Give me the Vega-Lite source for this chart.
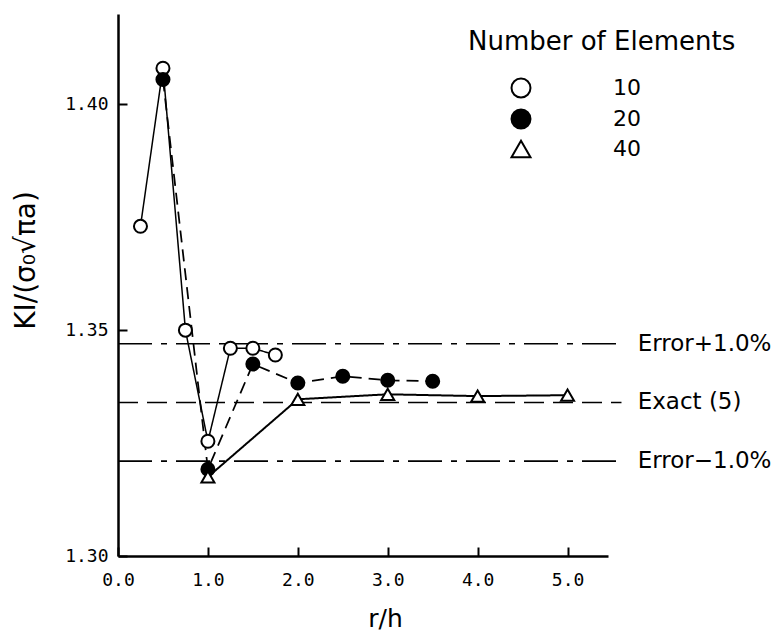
{
  "$schema": "https://vega.github.io/schema/vega-lite/v6.json",
  "width": 490,
  "height": 542,
  "autosize": "none",
  "padding": {"left": 118, "top": 14, "right": 171, "bottom": 75},
  "background": "white",
  "config": {
    "view": {"stroke": null},
    "axis": {
      "grid": false,
      "domainColor": "black",
      "domainWidth": 2.5,
      "tickColor": "black",
      "tickWidth": 2,
      "tickSize": -9,
      "labelFont": "DejaVu Sans Mono",
      "labelFontSize": 18,
      "labelColor": "black",
      "labelFlush": false,
      "titleFont": "DejaVu Sans",
      "titleFontWeight": "normal",
      "titleColor": "black"
    }
  },
  "resolve": {"scale": {"strokeDash": "independent", "strokeWidth": "independent"}},
  "layer": [
    {
      "data": {"values": [
        {"k": 1.347, "label": "Error+1.0%"},
        {"k": 1.334, "label": "Exact (5)"},
        {"k": 1.321, "label": "Error\u22121.0%"}
      ]},
      "mark": {"type": "rule", "color": "black", "strokeWidth": 1.6},
      "encoding": {
        "x": {"datum": 0},
        "x2": {"datum": 5.6},
        "y": {"field": "k", "type": "quantitative"},
        "strokeDash": {
          "field": "label", "type": "nominal",
          "scale": {"domain": ["Error+1.0%", "Exact (5)", "Error\u22121.0%"], "range": [[34, 9, 6, 9], [20, 9], [34, 9, 6, 9]]},
          "legend": null
        }
      }
    },
    {
      "data": {"values": [
        {"k": 1.347, "label": "Error+1.0%"},
        {"k": 1.334, "label": "Exact (5)"},
        {"k": 1.321, "label": "Error\u22121.0%"}
      ]},
      "mark": {"type": "text", "align": "left", "baseline": "middle", "font": "DejaVu Sans", "fontSize": 23, "color": "black"},
      "encoding": {
        "x": {"datum": 5.78},
        "y": {"field": "k", "type": "quantitative"},
        "text": {"field": "label"}
      }
    },
    {
      "data": {"name": "pts", "values": [
        {"r": 0.25, "k": 1.373, "n": "10"},
        {"r": 0.5, "k": 1.408, "n": "10"},
        {"r": 0.75, "k": 1.350, "n": "10"},
        {"r": 1.0, "k": 1.3254, "n": "10"},
        {"r": 1.25, "k": 1.346, "n": "10"},
        {"r": 1.5, "k": 1.346, "n": "10"},
        {"r": 1.75, "k": 1.3445, "n": "10"},
        {"r": 0.5, "k": 1.4055, "n": "20"},
        {"r": 1.0, "k": 1.3192, "n": "20"},
        {"r": 1.5, "k": 1.3425, "n": "20"},
        {"r": 2.0, "k": 1.3383, "n": "20"},
        {"r": 2.5, "k": 1.3398, "n": "20"},
        {"r": 3.0, "k": 1.3389, "n": "20"},
        {"r": 3.5, "k": 1.3387, "n": "20"},
        {"r": 1.0, "k": 1.3175, "n": "40"},
        {"r": 2.0, "k": 1.3347, "n": "40"},
        {"r": 3.0, "k": 1.3358, "n": "40"},
        {"r": 4.0, "k": 1.3354, "n": "40"},
        {"r": 5.0, "k": 1.3356, "n": "40"}
      ]},
      "mark": {"type": "line", "color": "black"},
      "encoding": {
        "x": {"field": "r", "type": "quantitative"},
        "y": {"field": "k", "type": "quantitative"},
        "detail": {"field": "n"},
        "strokeDash": {"field": "n", "type": "nominal", "scale": {"domain": ["10", "20", "40"], "range": [[1, 0], [12, 7], [1, 0]]}, "legend": null},
        "strokeWidth": {"field": "n", "type": "nominal", "scale": {"domain": ["10", "20", "40"], "range": [1.5, 2, 2.2]}, "legend": null}
      }
    },
    {
      "data": {"name": "pts"},
      "mark": {"type": "point", "filled": true, "stroke": "black", "strokeWidth": 2, "size": 170, "opacity": 1},
      "encoding": {
        "x": {
          "field": "r", "type": "quantitative",
          "scale": {"domain": [0, 5.45], "nice": false, "zero": false},
          "axis": {"values": [0, 1, 2, 3, 4, 5], "format": ".1f", "title": "r/h", "titleFontSize": 25, "labelPadding": 24, "titleX": 267, "titleY": 62, "titleBaseline": "middle", "titleAlign": "center"}
        },
        "y": {
          "field": "k", "type": "quantitative",
          "scale": {"domain": [1.30, 1.42], "nice": false, "zero": false},
          "axis": {"values": [1.30, 1.35, 1.40], "format": ".2f", "title": "KI/(\u03c3\u2080\u221a\u03c0a)", "titleFontSize": 28, "labelPadding": 19, "titleX": -92, "titleY": 246, "titleBaseline": "middle", "titleAlign": "center", "titleAngle": -90}
        },
        "fill": {
          "field": "n", "type": "nominal",
          "scale": {"domain": ["10", "20", "40"], "range": ["white", "black", "white"]},
          "legend": {
            "title": "Number of Elements",
            "orient": "none",
            "legendX": 350,
            "legendY": 15,
            "titleFont": "DejaVu Sans",
            "titleFontSize": 26,
            "titleFontWeight": "normal",
            "titleColor": "black",
            "titleLimit": 500,
            "titlePadding": 22,
            "labelFont": "DejaVu Sans",
            "labelFontSize": 22,
            "labelColor": "black",
            "labelOffset": 81,
            "symbolOffset": 42,
            "symbolSize": 360,
            "symbolStrokeColor": "black",
            "symbolStrokeWidth": 2,
            "rowPadding": 3
          }
        },
        "shape": {
          "field": "n", "type": "nominal",
          "scale": {"domain": ["10", "20", "40"], "range": ["circle", "circle", "triangle-up"]},
          "legend": {"title": "Number of Elements"}
        }
      }
    }
  ]
}
